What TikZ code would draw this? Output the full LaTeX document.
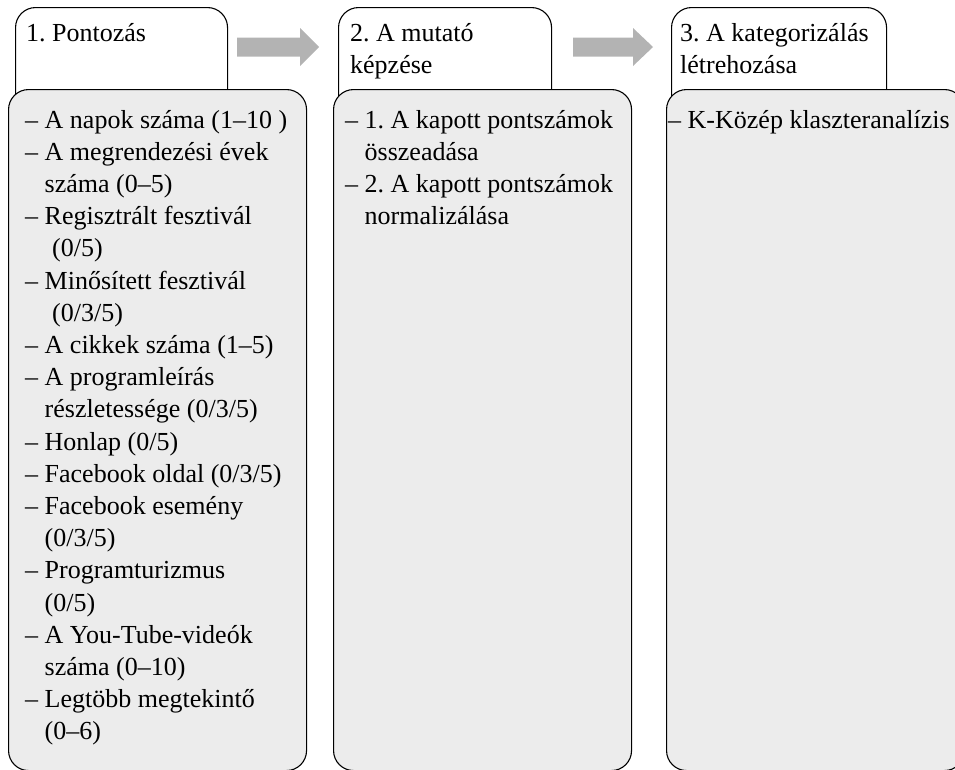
\documentclass[tikz,border=0pt]{standalone}
\usepackage{fontspec}
\setmainfont{Liberation Serif}
\frenchspacing
\definecolor{bodyfill}{HTML}{ECECEC}
\definecolor{arrowgray}{HTML}{B3B3B3}
\tikzset{
  hdrbox/.style={draw=black, line width=1.1pt, rounded corners=20pt, fill=white,
    inner sep=0pt, anchor=north west, minimum width=213pt, minimum height=110pt},
  bodybox/.style={draw=black, line width=1.1pt, rounded corners=20pt, fill=bodyfill,
    inner sep=0pt, anchor=north west, minimum width=298pt, minimum height=681pt},
  txt/.style={inner sep=0pt, anchor=base west, font=\fontsize{26pt}{32.2pt}\selectfont},
  blockarrow/.style={fill=arrowgray, draw=none}
}
\newcommand{\ind}{\hspace*{19.5pt}}
\newcommand{\indb}{\hspace*{27pt}}
\begin{document}
\begin{tikzpicture}[x=1pt,y=-1pt]
\useasboundingbox (0,0) rectangle (955,769);
\clip (0,0) rectangle (955,769);
% headers
\node[hdrbox, minimum width=212pt] (h1) at (15,7) {};
\node[hdrbox] (h2) at (338,7) {};
\node[hdrbox, minimum width=215pt] (h3) at (671,7) {};
% bodies
\node[bodybox] (b1) at (8,89) {};
\node[bodybox] (b2) at (333,89) {};
\node[bodybox] (b3) at (666,89) {};
% header texts
\node[txt] (ht1) at (26,41) {\parbox[t]{200pt}{1. Pontozás}};
\node[txt] (ht2) at (350,41) {\parbox[t]{200pt}{2. A mutató\\képzése}};
\node[txt] (ht3) at (680,41) {\parbox[t]{220pt}{3. A kategorizálás\\létrehozása}};
% arrows
\coordinate (a1) at (237,47);
\coordinate (a2) at (573,47);
\fill[blockarrow] (a1) ++(0,-9.5) -- ++(63,0) -- ++(0,-9.5) -- ++(19,19) -- ++(-19,19) -- ++(0,-9.5) -- ++(-63,0) -- cycle;
\fill[blockarrow] (a2) ++(0,-9.5) -- ++(60,0) -- ++(0,-9.5) -- ++(20,19) -- ++(-20,19) -- ++(0,-9.5) -- ++(-60,0) -- cycle;
% body texts
\node[txt] (bt1) at (25,128) {\parbox[t]{300pt}{%
– A napok száma (1–10 )\\
– A megrendezési évek\\
\ind száma (0–5)\\
– Regisztrált fesztivál\\
\indb(0/5)\\
– Minősített fesztivál\\
\indb(0/3/5)\\
– A cikkek száma (1–5)\\
– A programleírás\\
\ind részletessége (0/3/5)\\
– Honlap (0/5)\\
– Facebook oldal (0/3/5)\\
– Facebook esemény\\
\ind(0/3/5)\\
– Programturizmus\\
\ind(0/5)\\
– A You-Tube-videók\\
\ind száma (0–10)\\
– Legtöbb megtekintő\\
\ind(0–6)}};
\node[txt] (bt2) at (345,128) {\parbox[t]{300pt}{%
– 1. A kapott pontszámok\\
\ind összeadása\\
– 2. A kapott pontszámok\\
\ind normalizálása}};
\node[txt] (bt3) at (668,128) {\parbox[t]{320pt}{– K-Közép klaszteranalízis}};
\end{tikzpicture}
\end{document}
